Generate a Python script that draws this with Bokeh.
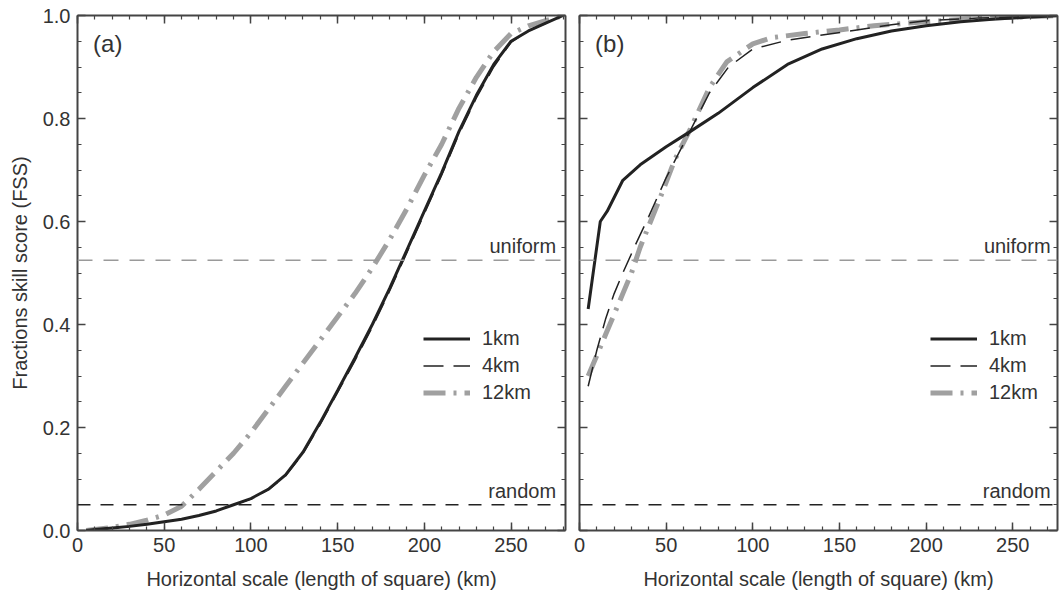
import numpy as np
from bokeh.plotting import figure
from bokeh.layouts import row
from bokeh.models import (Range1d, LinearAxis, SingleIntervalTicker, Legend, LegendItem,
                          Span, Label, NumeralTickFormatter, CustomLabelingPolicy)
from bokeh.embed import file_html
from bokeh.resources import INLINE

# ---------------- data ----------------
# Panel (a)
a_x = [5, 10, 20, 30, 40, 50, 60, 70, 80, 90, 100, 110, 120, 130, 140, 150, 160, 170,
       180, 190, 200, 210, 220, 230, 240, 250, 260, 270, 280]
a_1km = [0.0, 0.002, 0.005, 0.008, 0.012, 0.017, 0.022, 0.029, 0.038, 0.05, 0.062, 0.08,
         0.108, 0.152, 0.21, 0.272, 0.335, 0.40, 0.47, 0.545, 0.62, 0.695, 0.775, 0.845,
         0.905, 0.95, 0.97, 0.985, 1.0]
a_4km = [0.0, 0.002, 0.005, 0.008, 0.012, 0.017, 0.022, 0.029, 0.038, 0.05, 0.061, 0.079,
         0.106, 0.149, 0.206, 0.268, 0.33, 0.395, 0.465, 0.54, 0.615, 0.69, 0.77, 0.84,
         0.9, 0.948, 0.97, 0.985, 1.0]
a_12km = [0.0, 0.002, 0.006, 0.012, 0.02, 0.03, 0.047, 0.08, 0.115, 0.15, 0.19, 0.235,
          0.28, 0.325, 0.37, 0.415, 0.46, 0.51, 0.565, 0.625, 0.69, 0.75, 0.82, 0.88,
          0.93, 0.965, 0.98, 0.99, 1.0]

# Panel (b)
b_x_1km = [5, 12, 16, 25, 35, 50, 64, 80, 100, 120, 140, 160, 180, 200, 220, 240, 260, 280]
b_1km = [0.43, 0.6, 0.62, 0.68, 0.71, 0.745, 0.775, 0.81, 0.86, 0.905, 0.935, 0.955,
         0.97, 0.98, 0.988, 0.993, 0.997, 1.0]
b_x_4km = [5, 10, 15, 20, 25, 33, 40, 50, 64, 75, 86, 100, 120, 140, 160, 180, 200, 230, 260, 280]
b_4km = [0.28, 0.35, 0.41, 0.46, 0.5, 0.56, 0.61, 0.685, 0.777, 0.85, 0.9, 0.935, 0.952,
         0.962, 0.972, 0.982, 0.99, 0.995, 0.998, 1.0]
b_x_12km = [5, 10, 15, 20, 25, 30, 35, 41, 47, 55, 64, 75, 85, 100, 111, 130, 150, 170,
            200, 230, 260, 280]
b_12km = [0.30, 0.34, 0.38, 0.42, 0.46, 0.5, 0.55, 0.6, 0.65, 0.72, 0.78, 0.86, 0.91,
          0.945, 0.957, 0.965, 0.972, 0.98, 0.988, 0.994, 0.998, 1.0]

uniform_fss = 0.525
random_fss = 0.05
series_labels = ["1km", "4km", "12km"]
panel_labels = ["(a)", "(b)"]
x_title = "Horizontal scale (length of square) (km)"
y_title = "Fractions skill score (FSS)"

FONT = "Liberation Sans"
TXT = "#333333"
DARK = "#222222"
GRAY = "#a0a0a0"

HIDE_LABELS = """
const all = [...indices];
for (const i of all) indices.unset(i);
return indices;
"""


def style_axis(ax, labels=True):
    ax.major_tick_in = 8
    ax.major_tick_out = 0
    ax.minor_tick_in = 4
    ax.minor_tick_out = 0
    ax.axis_line_width = 2
    ax.axis_line_color = "#444444"
    ax.major_tick_line_color = "#444444"
    ax.minor_tick_line_color = "#444444"
    ax.major_tick_line_width = 1.5
    ax.minor_tick_line_width = 1.2
    ax.major_label_text_font = FONT
    ax.major_label_text_color = TXT
    ax.axis_label_text_font = FONT
    ax.axis_label_text_font_size = "20px"
    ax.axis_label_text_font_style = "normal"
    ax.axis_label_text_color = TXT
    if labels:
        ax.major_label_text_font_size = "20px"
        ax.major_label_standoff = 7
    else:
        ax.major_label_text_font_size = "2px"
        ax.major_label_standoff = 0
        ax.major_label_policy = CustomLabelingPolicy(code=HIDE_LABELS)


def make_panel(width, xmax, mbl, mbr, show_ylabels):
    p = figure(width=width, height=594, x_range=Range1d(0, xmax), y_range=Range1d(0, 1.0),
               output_backend="svg", toolbar_location=None,
               min_border_left=mbl, min_border_right=mbr, min_border_top=15,
               min_border_bottom=64)
    p.grid.visible = False
    p.outline_line_color = None
    p.background_fill_color = "white"
    p.border_fill_color = "white"
    p.xaxis.ticker = SingleIntervalTicker(interval=50, num_minor_ticks=5)
    p.yaxis.ticker = SingleIntervalTicker(interval=0.2, num_minor_ticks=4)
    p.yaxis.formatter = NumeralTickFormatter(format="0.0")
    style_axis(p.xaxis[0])
    style_axis(p.yaxis[0], labels=show_ylabels)
    p.xaxis.axis_label = x_title
    p.xaxis.axis_label_standoff = 13
    if show_ylabels:
        p.yaxis.axis_label = y_title
        p.yaxis.axis_label_standoff = 9
    top = LinearAxis(ticker=SingleIntervalTicker(interval=50, num_minor_ticks=5))
    style_axis(top, labels=False)
    p.add_layout(top, "above")
    right = LinearAxis(ticker=SingleIntervalTicker(interval=0.2, num_minor_ticks=4))
    style_axis(right, labels=False)
    p.add_layout(right, "right")
    p.add_layout(Span(location=uniform_fss, dimension="width", line_color="#9a9a9a",
                      line_width=1.5, line_dash="15 11"))
    p.add_layout(Span(location=random_fss, dimension="width", line_color=DARK,
                      line_width=1.5, line_dash="13 10"))
    return p


def add_texts(p, xend, label):
    p.add_layout(Label(x=xend, y=uniform_fss, text="uniform", text_align="right",
                       text_baseline="bottom", y_offset=3, text_font=FONT,
                       text_font_size="20px", text_color=TXT))
    p.add_layout(Label(x=xend, y=random_fss, text="random", text_align="right",
                       text_baseline="bottom", y_offset=3, text_font=FONT,
                       text_font_size="20px", text_color=TXT))
    p.add_layout(Label(x=9, y=0.946, text=label, text_align="left",
                       text_baseline="middle", text_font=FONT,
                       text_font_size="24px", text_color=TXT))


def add_legend(p, rends, xloc):
    items = [LegendItem(label=l, renderers=[r]) for l, r in zip(series_labels, rends)]
    lg = Legend(items=items, location=(xloc, 124), glyph_width=47, glyph_height=27,
                label_height=27, spacing=0, padding=0, margin=0, label_standoff=12,
                label_text_font=FONT, label_text_font_size="20px", label_text_color=TXT,
                background_fill_alpha=0, border_line_alpha=0)
    p.add_layout(lg)


# Panel (a)
pa = make_panel(572, 281.4, 77, 7, True)
r12 = pa.line(a_x, a_12km, line_color=GRAY, line_width=5, line_dash="22 8 3 8")
r4 = pa.line(a_x, a_4km, line_color=DARK, line_width=1.5, line_dash="20 10")
r1 = pa.line(a_x, a_1km, line_color=DARK, line_width=3)
add_texts(pa, 276, panel_labels[0])
add_legend(pa, [r1, r4, r12], 346)

# Panel (b)
pb = make_panel(491, 275.8, 7, 3, False)
s12 = pb.line(b_x_12km, b_12km, line_color=GRAY, line_width=5, line_dash="22 8 3 8")
s4 = pb.line(b_x_4km, b_4km, line_color=DARK, line_width=1.5, line_dash="20 10")
s1 = pb.line(b_x_1km, b_1km, line_color=DARK, line_width=3)
add_texts(pb, 271.8, panel_labels[1])
add_legend(pb, [s1, s4, s12], 351)

layout = row(pa, pb)
open("out.html", "w").write(file_html(layout, INLINE))
